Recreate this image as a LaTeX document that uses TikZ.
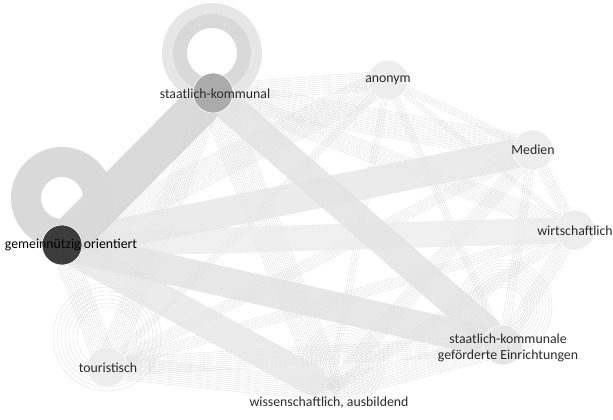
\documentclass[tikz,border=0pt]{standalone}
\usepackage{fontspec}
\setmainfont{Carlito}
\usepackage{tikz}
\usetikzlibrary{calc}
\definecolor{textgray}{HTML}{2A2A2A}
\definecolor{nodelight}{HTML}{EDEDED}
\definecolor{skgray}{HTML}{ABABAB}
\definecolor{godark}{HTML}{3C3C3C}
\definecolor{linegray}{HTML}{DDDDDD}
\definecolor{loopgray}{HTML}{D9D9D9}
\definecolor{looplight}{HTML}{E6E6E6}
\tikzstyle{vertex} = [circle, minimum size=40pt, inner sep=0pt, draw=white, line width=0.6pt, fill=nodelight]
\tikzstyle{nodetext} = [text=textgray, font=\fontsize{13.8}{16}\selectfont, align=center, inner sep=0pt]
\tikzstyle{band} = [line cap=round, draw opacity=0.85]
\tikzstyle{thinline} = [draw=linegray, line width=0.35pt]
\pgfdeclarelayer{edges}
\pgfsetlayers{edges,main}

\begin{document}
\begin{tikzpicture}[x=1pt, y=-1pt]
        \useasboundingbox (0,0) rectangle (613,420);

        \node (sk) [vertex, fill=skgray] at (213,93) {};
        \node (an) [vertex] at (388,80) {};
        \node (med) [vertex] at (533,150) {};
        \node (wi) [vertex] at (575,230) {};
        \node (skg) [vertex, fill=looplight] at (503,345) {};
        \node (wa) [vertex, draw=none, fill=none] at (330,390) {};
        \node (tour) [vertex] at (107,367) {};
        \node (go) [vertex, fill=godark] at (62,245) {};

        \node (sklab) [nodetext] at (215,94) {staatlich-kommunal};
        \node (anlab) [nodetext] at (388,80) {anonym};
        \node (medlab) [nodetext] at (533,150) {Medien};
        \node (wilab) [nodetext] at (575,231) {wirtschaftlich};
        \node (skglab) [nodetext] at (508,348) {staatlich-kommunale\\geförderte Einrichtungen};
        \node (walab) [nodetext] at (329,403) {wissenschaftlich, ausbildend};
        \node (tourlab) [nodetext] at (108,368) {touristisch};
        \node (golab) [nodetext, text=black] at (71,245) {gemeinnützig orientiert};

        \begin{pgfonlayer}{edges}
        % thin edges, drawn as bundles
        \foreach \a/\b/\n in {an/go/14, an/sk/10, an/med/4, an/wi/3, an/skg/4, an/wa/4, an/tour/4,
                med/sk/14, med/wi/6, med/skg/5, med/wa/8, med/tour/6,
                wi/sk/10, wi/skg/8, wi/wa/6, wi/tour/6,
                skg/wa/12, skg/tour/10, wa/tour/12,
                sk/wa/16, sk/tour/12, go/tour/12} {
            \foreach \k in {1,...,\n} {
                \draw [thinline] ($(\a)!{(\k-(\n+1)/2)*2pt}!90:(\b)$) -- ($(\b)!{(\k-(\n+1)/2)*2pt}!-90:(\a)$);
            }
        }
        % thin self loops
        \foreach \r in {30,34,...,54} \draw [thinline] ($(tour)+(0,-30)$) circle (\r);
        \foreach \r in {20,23,...,47} \draw [thinline] ($(skg)+(2,-38)$) circle (\r);
        \foreach \r in {14,17,...,41} \draw [thinline] ($(wa)+(13,-25)$) circle (\r);

        % thick edges
        \draw [band, draw=black!9, line width=30pt] (go) -- (wa);
        \draw [band, draw=black!7, line width=26pt] (go) -- (wi);
        \draw [band, draw=black!9, line width=30pt] (go) -- (med);
        \draw [band, draw=black!11, line width=30pt] (go) -- (skg);
        \draw [band, draw=black!11, line width=30pt] (sk) -- (skg);
        \draw [band, draw=black!17, line width=40pt] (go) -- (sk);

        % self loops
        \draw [draw=looplight, line width=11pt] ($(sk)+(-1,-40)$) circle (44.5);
        \draw [draw=loopgray, line width=14pt] ($(sk)+(-1,-40)$) circle (32);
        \draw [draw=loopgray, line width=30pt] ($(go)+(0,-47)$) circle (36);
        \end{pgfonlayer}
\end{tikzpicture}
\end{document}
